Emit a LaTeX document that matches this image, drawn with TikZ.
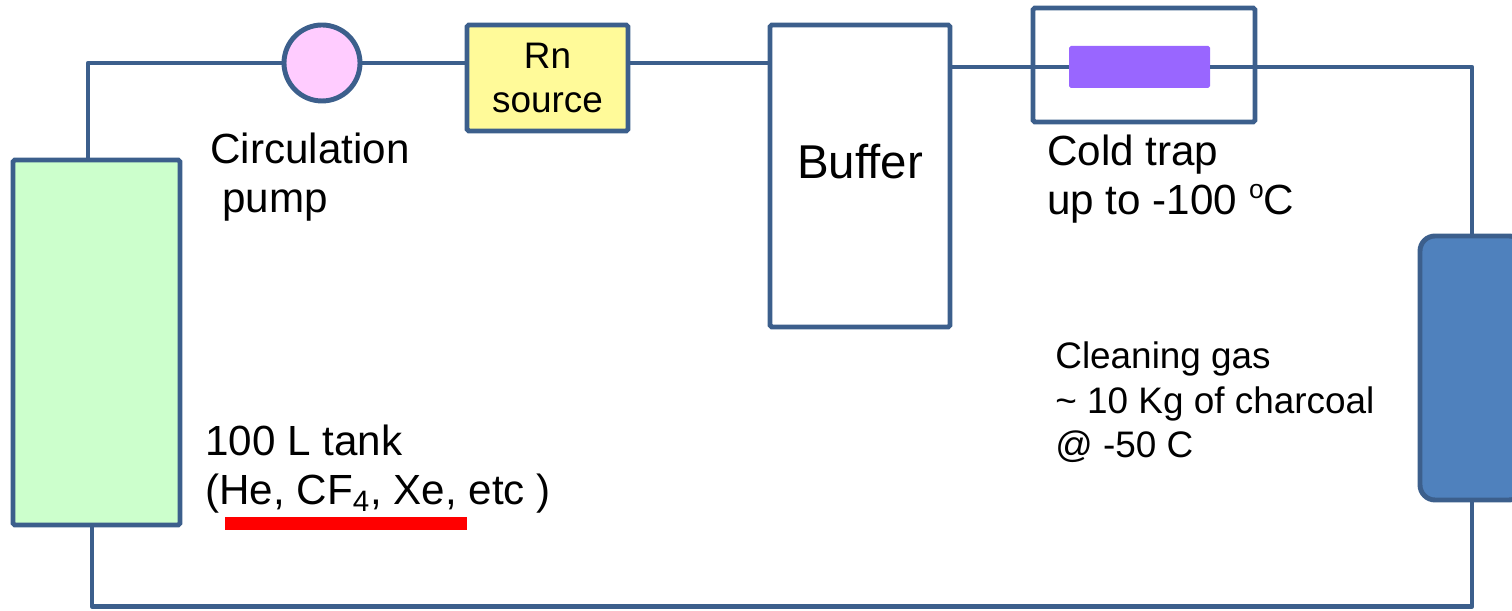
\documentclass[tikz,border=0pt]{standalone}
\usepackage{fontspec}
\setmainfont{Liberation Sans}
\usetikzlibrary{positioning,calc}
\definecolor{pipeblue}{RGB}{60,95,140}
\definecolor{coldcore}{RGB}{153,102,255}
\definecolor{charcoalblue}{RGB}{79,129,189}
\definecolor{pumppink}{RGB}{255,204,255}
\newcommand{\degsup}{\raisebox{0.4em}{\fontsize{15}{15}\selectfont o}}
\begin{document}
\begin{tikzpicture}[
  bigtxt/.style={font=\fontsize{24}{28}\selectfont},
  midtxt/.style={font=\fontsize{21}{25.5}\selectfont},
  unit/.style={draw=pipeblue, line width=2.8pt, inner sep=0pt, rounded corners=1pt},
  pipe/.style={draw=pipeblue, line width=2.6pt, line join=round},
  lbl/.style={anchor=base west, align=left, inner sep=0pt}
]
  \useasboundingbox (0,0) rectangle (30.24,12.22);

  % vessels along the loop
  \node[unit, fill=green!20, minimum width=3.34cm, minimum height=7.30cm] (tank) at (1.93,5.37) {};
  \node[unit, circle, fill=pumppink, minimum size=1.52cm] (pump) at (6.44,10.96) {};
  \node[unit, fill=yellow!40, minimum width=3.22cm, minimum height=2.12cm, align=center, midtxt] (rnsrc) at (10.95,10.66) {Rn\\source};
  \node[unit, fill=white, minimum width=3.60cm, minimum height=6.04cm] (buffer) at (17.20,8.70) {};
  \node[font=\fontsize{27}{32}\selectfont, inner sep=0pt] (buflbl) at ([yshift=0.28cm]buffer.center) {Buffer};
  \node[unit, minimum width=4.44cm, minimum height=2.28cm] (trap) at (22.88,10.92) {};
  \node[fill=coldcore, rounded corners=1pt, minimum width=2.82cm, minimum height=0.84cm, inner sep=0pt] (trapcore) at (22.79,10.88) {};
  \node[unit, fill=charcoalblue, rounded corners=0.3cm, minimum width=2.08cm, minimum height=5.28cm] (charcoal) at (29.44,4.86) {};

  % pipework, clockwise from the tank
  \coordinate (tl) at (1.76,10.98);
  \coordinate (bl) at (1.84,0.09);
  \draw[pipe] (tank.north -| tl) |- (pump.west);
  \draw[pipe] (pump.east) -- (pump.east -| rnsrc.west);
  \draw[pipe] (rnsrc.east |- pump.east) -- (buffer.west |- pump.east);
  \draw[pipe] (buffer.east |- trapcore.west) -- (trapcore.west);
  \draw[pipe] (trapcore.east) -| (charcoal.north);
  \draw[pipe] (charcoal.south) |- (bl) -- (tank.south -| bl);

  % labels (base sits on the last line)
  \node[lbl, bigtxt] (pumplbl) at (4.20,7.96) {Circulation\\\hspace*{0.28em}pump};
  \node[lbl, bigtxt] (traplbl) at (20.94,7.92) {Cold trap\\up to -100 \degsup C};
  \node[lbl, midtxt] (gaslbl) at (21.10,3.06) {Cleaning gas\\\textasciitilde{} 10 Kg of charcoal\\@ -50 C};
  \node[lbl, bigtxt] (tanklbl) at (4.10,2.12) {100 L tank\\(He, CF\textsubscript{4}, Xe, etc )};
  \fill[red] (4.50,1.62) rectangle (9.34,1.88);
\end{tikzpicture}
\end{document}
